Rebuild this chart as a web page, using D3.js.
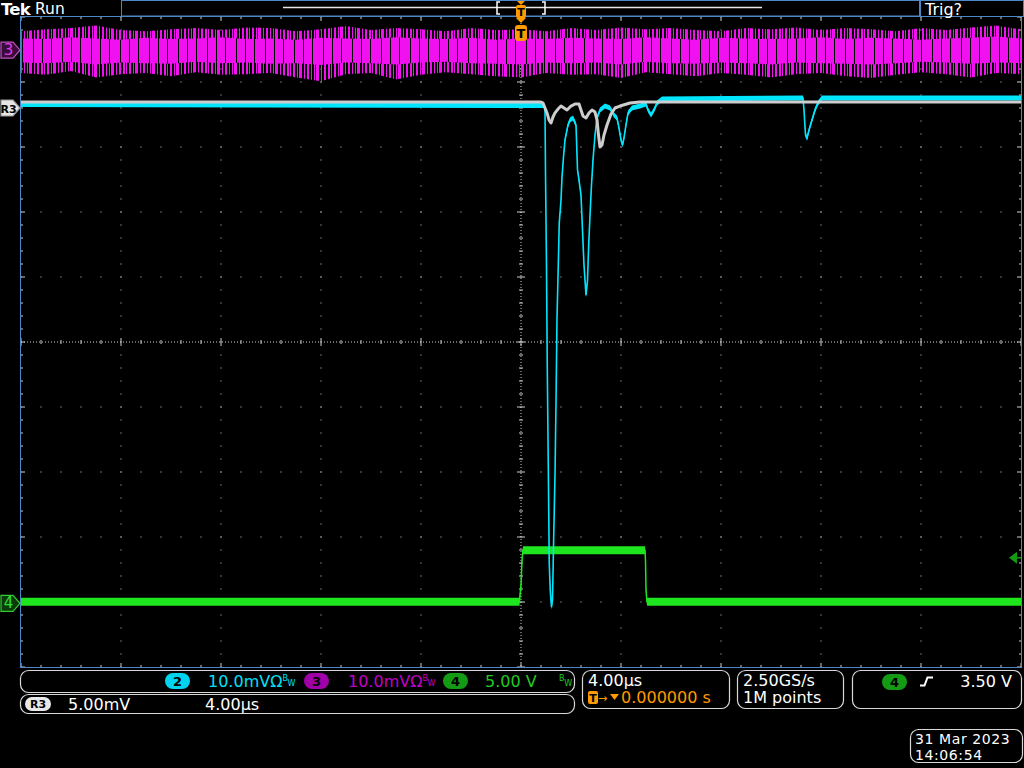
<!DOCTYPE html>
<html><head><meta charset="utf-8">
<script src="https://cdn.jsdelivr.net/npm/d3@7"></script>
<style>
body{margin:0;background:#000;overflow:hidden}
svg{display:block}
text{font-family:"DejaVu Sans",sans-serif}
</style>
</head><body>
<svg id="c" width="1024" height="768"></svg>
<script>
// ---------------- DATA ----------------
// Channel 2 (cyan) : time in µs, value in mV
const ch2T = [-20,0.92,0.96,0.98,1.02,1.05,1.09,1.13,1.17,1.22,1.26,1.29,1.32,1.36,1.40,1.44,1.48,1.53,1.60,1.64,1.70,1.76,1.88,1.96,2.08,2.20,2.26,2.32,2.40,2.46,2.52,2.60,2.66,2.70,2.76,2.82,2.88,2.96,3.04,3.16,3.36,3.56,3.72,3.84,3.92,4.00,4.06,4.12,4.20,4.28,4.44,4.76,5.00,5.08,5.20,5.32,5.44,5.64,11.28,11.32,11.38,11.44,11.52,11.64,11.76,11.88,12.04,20];
const ch2V = [0.54,0.38,-0.31,-9.85,-24.5,-39.5,-54.6,-70.0,-74.2,-76.8,-75.7,-69.5,-63.8,-56.5,-45.4,-32.2,-26.0,-17.7,-14.2,-10.6,-7.5,-4.9,-2.6,-1.85,-1.54,-2.6,-9.5,-11.1,-13.4,-18.8,-24.2,-28.8,-26.5,-21.8,-16.5,-11.8,-8.0,-4.15,-1.54,-0.31,0.31,0,-1.08,-1.54,-3.08,-4.92,-5.7,-4.6,-2.6,-0.77,0,0.31,0.62,-0.31,-1.08,-0.31,0.77,1.38,1.54,-0.31,-4.15,-4.6,-3.4,-1.85,-0.31,0.77,1.54,1.54];

// Reference R3 (gray) : time in µs, value in mV
const r3T = [-20,0.80,0.88,0.96,1.04,1.12,1.20,1.28,1.36,1.48,1.60,1.72,1.84,2.00,2.16,2.32,2.40,2.48,2.60,2.72,2.84,2.96,3.04,3.10,3.16,3.24,3.32,3.44,3.60,3.76,3.96,4.36,4.76,20];
const r3V = [0.46,0.46,0.38,0,-0.38,-0.92,-1.15,-0.69,-0.38,-0.08,0.15,0,-0.15,0.15,0.31,0.31,-0.15,-0.62,-0.77,-0.38,-0.15,-0.31,-0.92,-2.08,-3.0,-2.85,-2.08,-1.31,-0.46,0,0.15,0.38,0.46,0.46];

// Channel 4 (green) : time in µs, value in V
const ch4T = [-20,-0.06,-0.04,0,0.04,0.08,4.96,4.98,5.00,5.04,20];
const ch4V = [0.12,0.12,0.62,1.38,3.31,4.08,4.08,3.31,1.0,0.12,0.12];

// Channel 3 (magenta) noise envelope, sampled every 1 µs, values in mV
const ch3T = [-20,-19,-18,-17,-16,-15,-14,-13,-12,-11,-10,-9,-8,-7,-6,-5,-4,-3,-2,-1,0,1,2,3,4,5,6,7,8,9,10,11,12,13,14,15,16,17,18,19,20];
const ch3Max = [2.9,3.2,3.4,3.8,3.1,2.9,3.2,3.4,3.1,3.5,3.4,2.9,3.2,3.7,3.1,3.4,3.2,2.9,3.4,3.1,3.2,2.9,3.4,3.1,3.5,3.2,3.4,3.1,2.9,3.4,3.2,3.5,3.1,3.4,3.2,2.9,3.4,3.1,3.5,3.8,3.2];
const ch3Min = [-3.5,-3.8,-3.2,-4.2,-3.7,-3.5,-4.0,-3.4,-3.8,-3.7,-3.5,-4.2,-4.8,-3.7,-3.5,-4.5,-3.8,-3.4,-3.7,-4.0,-4.2,-3.5,-3.8,-3.7,-4.3,-3.4,-3.7,-4.0,-3.5,-3.8,-4.2,-3.7,-3.5,-4.0,-4.3,-3.8,-3.4,-3.7,-4.2,-3.5,-3.7];
const ch3CoreMax = [1.8,1.7,2.0,1.8,1.6,1.9,1.7,1.8,2.0,1.7,1.8,1.6,1.9,1.8,1.7,2.0,1.8,1.7,1.9,1.6,1.8,1.7,1.9,1.8,1.7,2.0,1.8,1.6,1.9,1.8,1.7,1.8,2.0,1.7,1.9,1.8,1.6,1.8,1.9,2.1,1.8];
const ch3CoreMin = [-1.9,-2.0,-1.8,-2.2,-1.9,-2.0,-2.1,-1.8,-2.0,-1.9,-2.1,-2.0,-2.3,-1.9,-2.0,-2.2,-1.9,-1.8,-2.0,-2.1,-2.2,-1.9,-2.0,-1.9,-2.2,-1.8,-2.0,-2.1,-1.9,-2.0,-2.2,-1.9,-2.0,-2.1,-2.2,-2.0,-1.8,-1.9,-2.1,-1.9,-2.0];

// Settings / labels
const timePerDiv = 4;          // µs/div
const ch2Scale = 10, ch2Pos = 3.6;   // mV/div, divisions
const r3Scale = 5,  r3Pos = 3.6;
const ch3Scale = 10, ch3Pos = 4.49;
const ch4Scale = 5,  ch4Pos = -4.02; // V/div
const trigLevel = 3.5;               // V
const statusCh = [["2","10.0mVΩ"],["3","10.0mVΩ"],["4","5.00 V"]];
const refLabel = ["R3","5.00mV","4.00µs"];
const horiz = ["4.00µs","0.000000 s"];
const acq = ["2.50GS/s","1M points"];
const trigText = "3.50 V";
const dateText = ["31 Mar 2023","14:06:54"];

// ---------------- LAYOUT ----------------
const svg = d3.select("#c");
const L=21, R=1021, T=17, B=667, DIVY=65;
const X = d3.scaleLinear().domain([-5*timePerDiv, 5*timePerDiv]).range([L, R]);
function chanY(pos, perDiv){ const y0 = (T+B)/2 - pos*DIVY; return d3.scaleLinear().domain([0, perDiv]).range([y0, y0-DIVY]); }
const Y2 = chanY(ch2Pos, ch2Scale), YR = chanY(r3Pos, r3Scale), Y3 = chanY(ch3Pos, ch3Scale), Y4 = chanY(ch4Pos, ch4Scale);

const COL = {cyan:"#00e6ff", mag:"#f010f0", green:"#1ee61e", gray:"#cdcdcd", blue:"#4f86c6", orange:"#ff9a00"};

svg.append("rect").attr("width",1024).attr("height",768).attr("fill","#000");

// defs: patterns for the noise texture (style only)
const defs = svg.append("defs");
const pat = defs.append("pattern").attr("id","noise").attr("patternUnits","userSpaceOnUse").attr("width",41).attr("height",200);
[[0,2],[3,1],[6,2],[10,1],[12,3],[17,1],[20,2],[24,1],[27,1],[29,3],[34,1],[37,2]].forEach(([x,w])=>pat.append("rect").attr("x",x).attr("y",0).attr("width",w).attr("height",200).attr("fill",COL.mag));
const pat2 = defs.append("pattern").attr("id","core").attr("patternUnits","userSpaceOnUse").attr("width",29).attr("height",200);
pat2.append("rect").attr("width",29).attr("height",200).attr("fill",COL.mag);
[[4,1],[13,1],[22,1]].forEach(([x,w])=>pat2.append("rect").attr("x",x).attr("y",0).attr("width",w).attr("height",200).attr("fill","#000"));

// ---------------- GRATICULE ----------------
const g = svg.append("g");
const dotCol = "#cfcfcf";
for (let i=1;i<10;i++){ if(i===5) continue; const x=L+i*100;
  for (let j=0;j<=50;j++){ g.append("rect").attr("x",x-0.5).attr("y",T+j*13-0.5).attr("width",1).attr("height",1).attr("fill",dotCol); } }
for (let k=1;k<10;k++){ if(k===5) continue; const y=T+k*DIVY;
  for (let m=0;m<=50;m++){ g.append("rect").attr("x",L+m*20-0.5).attr("y",y-0.5).attr("width",1).attr("height",1).attr("fill",dotCol); } }
const cx=(L+R)/2, cy=(T+B)/2;
g.append("line").attr("x1",cx).attr("x2",cx).attr("y1",T).attr("y2",B).attr("stroke",dotCol).attr("stroke-dasharray","1,2");
g.append("line").attr("x1",L).attr("x2",R).attr("y1",cy).attr("y2",cy).attr("stroke",dotCol).attr("stroke-dasharray","1,2");
for (let j=0;j<=50;j++){ const y=T+j*13, w=(j%5===0)?4:2;
  g.append("line").attr("x1",cx-w).attr("x2",cx+w).attr("y1",y).attr("y2",y).attr("stroke",dotCol);
  g.append("line").attr("x1",L).attr("x2",L+w).attr("y1",y).attr("y2",y).attr("stroke",dotCol);
  g.append("line").attr("x1",R-w).attr("x2",R).attr("y1",y).attr("y2",y).attr("stroke",dotCol); }
for (let m=0;m<=50;m++){ const x=L+m*20, h=(m%5===0)?4:2;
  g.append("line").attr("x1",x).attr("x2",x).attr("y1",cy-h).attr("y2",cy+h).attr("stroke",dotCol);
  g.append("line").attr("x1",x).attr("x2",x).attr("y1",T).attr("y2",T+h).attr("stroke",dotCol);
  g.append("line").attr("x1",x).attr("x2",x).attr("y1",B-h).attr("y2",B).attr("stroke",dotCol); }
g.append("rect").attr("x",L-0.5).attr("y",T-0.5).attr("width",R-L+1).attr("height",B-T+1).attr("fill","none").attr("stroke",COL.blue);

// ---------------- TRACES ----------------
const tr = svg.append("g");
const m3 = ch3T.map((t,i)=>({t, hi:ch3Max[i], lo:ch3Min[i], chi:ch3CoreMax[i], clo:ch3CoreMin[i]}));
tr.append("path").datum(m3).attr("fill","url(#noise)")
  .attr("d", d3.area().x(d=>X(d.t)).y0(d=>Y3(d.lo)).y1(d=>Y3(d.hi)));
tr.append("path").datum(m3).attr("fill","url(#core)")
  .attr("d", d3.area().x(d=>X(d.t)).y0(d=>Y3(d.clo)).y1(d=>Y3(d.chi)));

const d4 = ch4T.map((t,i)=>({t, v:ch4V[i]}));
tr.append("path").datum(d4).attr("fill",COL.green)
  .attr("d", d3.area().x(d=>X(d.t)).y0(d=>Y4(d.v)+4).y1(d=>Y4(d.v)-4));
tr.append("path").datum(d4).attr("fill","none").attr("stroke",COL.green).attr("stroke-width",1.5)
  .attr("d", d3.line().x(d=>X(d.t)).y(d=>Y4(d.v)));

const d2 = ch2T.map((t,i)=>({t, v:ch2V[i]}));
tr.append("path").datum(d2).attr("fill",COL.cyan)
  .attr("d", d3.area().x(d=>X(d.t)).y0(d=>Y2(d.v)+2.5).y1(d=>Y2(d.v)-2.5));
tr.append("path").datum(d2).attr("fill","none").attr("stroke",COL.cyan).attr("stroke-width",1.6)
  .attr("d", d3.line().x(d=>X(d.t)).y(d=>Y2(d.v)));

const dr = r3T.map((t,i)=>({t, v:r3V[i]}));
tr.append("path").datum(dr).attr("fill","none").attr("stroke",COL.gray).attr("stroke-width",3).attr("stroke-linejoin","round")
  .attr("d", d3.line().x(d=>X(d.t)).y(d=>YR(d.v)));

// ---------------- MARKERS ----------------
function chMarker(yc, fill, stroke, label, tcol, fs, bold){
  const m = svg.append("g");
  m.append("path").attr("d",`M1,${yc-8}H13L20,${yc}L13,${yc+8}H1Z`).attr("fill",fill).attr("stroke",stroke).attr("stroke-width",1.2);
  m.append("text").attr("x",8.5).attr("y",yc+5).attr("text-anchor","middle").attr("font-size",fs).attr("font-weight",bold?"bold":"normal").attr("fill",tcol).text(label);
}
chMarker(Y3(0), "#3a0b3c", "#c050c0", "3", "#e040e0", 15, false);
chMarker(YR(0), "#e6e6e6", "#9a9a9a", "R3", "#000", 11, true);
chMarker(Y4(0), "#0b3a0b", "#30d030", "4", "#30e030", 15, false);

const ty = Y4(trigLevel);
svg.append("path").attr("d",`M1009,${ty}L1017,${ty-6}V${ty+6}Z`).attr("fill","#159a15");
svg.append("line").attr("x1",1017).attr("x2",1021).attr("y1",ty).attr("y2",ty).attr("stroke","#159a15").attr("stroke-width",1.5);

const tx = X(0);
svg.append("path").attr("d",`M${tx-5},${T+1}H${tx+5}L${tx},${T+6}Z`).attr("fill",COL.orange);
svg.append("rect").attr("x",tx-6).attr("y",T+8).attr("width",12).attr("height",16).attr("rx",3).attr("fill",COL.orange);
svg.append("text").attr("x",tx).attr("y",T+21).attr("text-anchor","middle").attr("font-size",13).attr("font-weight","bold").attr("fill","#000").text("T");

// ---------------- TOP BAR ----------------
svg.append("text").attr("x",1).attr("y",14.5).attr("font-size",16.5).attr("font-weight","bold").attr("letter-spacing",-0.8).attr("fill","#fff").text("Tek");
svg.append("text").attr("x",35).attr("y",14).attr("font-size",15.5).attr("fill","#fff").text("Run");
svg.append("rect").attr("x",121.5).attr("y",0.5).attr("width",798).attr("height",15.5).attr("fill","none").attr("stroke",COL.blue);
svg.append("line").attr("x1",283).attr("x2",762).attr("y1",7.5).attr("y2",7.5).attr("stroke","#e8e8e8").attr("stroke-width",1.5);
svg.append("path").attr("d","M500,2H497V14H500").attr("fill","none").attr("stroke","#fff").attr("stroke-width",1.5);
svg.append("path").attr("d","M542,2H545V14H542").attr("fill","none").attr("stroke","#fff").attr("stroke-width",1.5);
svg.append("path").attr("d",`M${tx-4},1H${tx+4}L${tx},5Z`).attr("fill",COL.orange);
svg.append("rect").attr("x",tx-5).attr("y",5).attr("width",10).attr("height",13).attr("rx",2).attr("fill",COL.orange);
svg.append("text").attr("x",tx).attr("y",16).attr("text-anchor","middle").attr("font-size",11).attr("font-weight","bold").attr("fill","#000").text("T");
svg.append("rect").attr("x",920.5).attr("y",0.5).attr("width",103).attr("height",16).attr("fill","none").attr("stroke",COL.blue);
svg.append("text").attr("x",925).attr("y",15).attr("font-size",16).attr("fill","#fff").text("Trig?");

// ---------------- STATUS BAR ----------------
function box(x,y,w,h){ svg.append("rect").attr("x",x+0.5).attr("y",y+0.5).attr("width",w).attr("height",h).attr("rx",8).attr("fill","#000").attr("stroke","#d8d8d8").attr("stroke-width",1.2); }
function badge(x,y,w,h,fill,label,fs){
  svg.append("rect").attr("x",x).attr("y",y).attr("width",w).attr("height",h).attr("rx",h/2).attr("fill",fill);
  svg.append("text").attr("x",x+w/2).attr("y",y+h-3).attr("text-anchor","middle").attr("font-size",fs).attr("font-weight","bold").attr("fill","#000").text(label);
}
box(20,670,554,22);
const chCols = [["#00d4ee","#00e0f8"],["#a000a8","#c000c8"],["#159a15","#22c822"]];
const badgeX = [165,304,443], textX = [208,348,485];
statusCh.forEach((s,i)=>{
  badge(badgeX[i],673,25,16,chCols[i][0],s[0],13);
  const t = svg.append("text").attr("x",textX[i]).attr("y",687).attr("font-size",16).attr("fill",chCols[i][1]).text(s[1]);
  if(i<2){ t.append("tspan").attr("font-size",8).attr("dy",-6).text("B"); t.append("tspan").attr("font-size",8).attr("dy",5).text("W"); }
});
const bw = svg.append("text").attr("x",559).attr("y",687).attr("font-size",8).attr("fill","#22c822");
bw.append("tspan").attr("dy",-6).text("B"); bw.append("tspan").attr("dy",5).text("W");

box(20,694,554,19);
badge(25,697,26,14,"#e8e8e8",refLabel[0],11);
svg.append("text").attr("x",68).attr("y",710).attr("font-size",16).attr("fill","#fff").text(refLabel[1]);
svg.append("text").attr("x",205).attr("y",710).attr("font-size",16).attr("fill","#fff").text(refLabel[2]);

box(582,670,147,38);
svg.append("text").attr("x",588).attr("y",686).attr("font-size",16).attr("fill","#fff").text(horiz[0]);
svg.append("rect").attr("x",588).attr("y",691).attr("width",10).attr("height",13).attr("rx",2).attr("fill",COL.orange);
svg.append("text").attr("x",593).attr("y",702).attr("text-anchor","middle").attr("font-size",11).attr("font-weight","bold").attr("fill","#000").text("T");
svg.append("text").attr("x",598).attr("y",702).attr("font-size",11).attr("fill",COL.orange).text("→");
svg.append("path").attr("d","M610,694H619L614.5,700Z").attr("fill",COL.orange);
svg.append("text").attr("x",621).attr("y",703).attr("font-size",16).attr("fill",COL.orange).text(horiz[1]);

box(737,670,106,38);
svg.append("text").attr("x",743).attr("y",686).attr("font-size",16).attr("fill","#fff").text(acq[0]);
svg.append("text").attr("x",743).attr("y",703).attr("font-size",16).attr("fill","#fff").text(acq[1]);

box(852,670,169,38);
badge(882,674,25,16,"#159a15","4",13);
svg.append("path").attr("d","M920,685.5H924.5L927.5,677.5H933").attr("fill","none").attr("stroke","#fff").attr("stroke-width",2);
svg.append("text").attr("x",1012).attr("y",687).attr("text-anchor","end").attr("font-size",16).attr("fill","#fff").text(trigText);

box(910,729,112,33);
svg.append("text").attr("x",915).attr("y",744).attr("font-size",14).attr("letter-spacing",0.6).attr("fill","#fff").text(dateText[0]);
svg.append("text").attr("x",915).attr("y",759.5).attr("font-size",14).attr("letter-spacing",0.6).attr("fill","#fff").text(dateText[1]);
</script>
</body></html>
